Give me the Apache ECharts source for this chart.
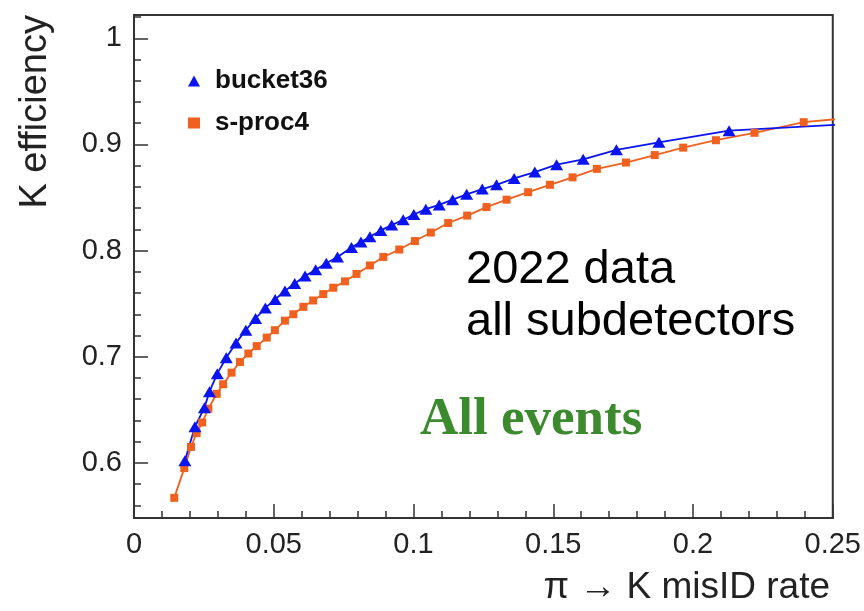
<!DOCTYPE html>
<html>
<head>
<meta charset="utf-8">
<script src="https://cdn.jsdelivr.net/npm/echarts@6/dist/echarts.min.js"></script>
<style>
  html, body { margin: 0; padding: 0; background: #fff; }
  #chart { width: 864px; height: 611px; }
</style>
</head>
<body>
<div id="chart"></div>
<script>
// Working points: pi -> K misID rate (x) vs K efficiency (y)
const bucket36X = [0.0182, 0.0218, 0.0252, 0.0270, 0.0298, 0.0330, 0.0365, 0.0400, 0.0435, 0.0470,
  0.0505, 0.0540, 0.0575, 0.0612, 0.0650, 0.0688, 0.0728, 0.0778, 0.0812, 0.0844,
  0.0883, 0.0922, 0.0963, 0.1001, 0.1044, 0.1092, 0.1140, 0.1190, 0.1246, 0.1297,
  0.1360, 0.1434, 0.1512, 0.1607, 0.1726, 0.1878, 0.2129, 0.2620];
const bucket36Y = [0.602, 0.634, 0.652, 0.667, 0.684, 0.699, 0.713, 0.725, 0.736, 0.746,
  0.754, 0.762, 0.769, 0.776, 0.782, 0.788, 0.794, 0.803, 0.808, 0.813,
  0.819, 0.824, 0.829, 0.834, 0.839, 0.843, 0.848, 0.853, 0.858, 0.862,
  0.868, 0.874, 0.881, 0.886, 0.895, 0.902, 0.913, 0.920];

const sproc4X = [0.0144, 0.0180, 0.0204, 0.0224, 0.0244, 0.0266, 0.0296, 0.0319, 0.0349, 0.0379,
  0.0409, 0.0439, 0.0475, 0.0504, 0.0540, 0.0570, 0.0606, 0.0641, 0.0677, 0.0713,
  0.0755, 0.0796, 0.0844, 0.0892, 0.0949, 0.1005, 0.1062, 0.1124, 0.1192, 0.1261,
  0.1333, 0.1410, 0.1488, 0.1569, 0.1656, 0.1760, 0.1863, 0.1965, 0.2082, 0.2220,
  0.2396, 0.2600];
const sproc4Y = [0.567, 0.595, 0.615, 0.628, 0.638, 0.651, 0.665, 0.674, 0.685, 0.695,
  0.703, 0.710, 0.718, 0.725, 0.734, 0.740, 0.747, 0.753, 0.759, 0.765,
  0.771, 0.778, 0.786, 0.794, 0.801, 0.809, 0.817, 0.826, 0.833, 0.841,
  0.848, 0.855, 0.862, 0.869, 0.877, 0.883, 0.890, 0.897, 0.904, 0.911,
  0.921, 0.926];

// Axis ticks
const xTickValues = [0, 0.05, 0.1, 0.15, 0.2, 0.25];
const yMajorTicks = [0.6, 0.7, 0.8, 0.9, 1.0];
const yMinorTicks = [0.56, 0.58, 0.62, 0.64, 0.66, 0.68, 0.72, 0.74, 0.76, 0.78,
  0.82, 0.84, 0.86, 0.88, 0.92, 0.94, 0.96, 0.98, 1.02];

const pairs = (xs, ys) => xs.map((x, i) => [x, ys[i]]);

const FRAME = '#333';
const BLUE = '#0a14f0';
const ORANGE = '#f0601e';
const labelFont = 'Liberation Sans, Arial, Helvetica, sans-serif';

const chart = echarts.init(document.getElementById('chart'), null, { renderer: 'canvas' });

chart.setOption({
  backgroundColor: '#fff',
  animation: false,
  grid: {
    left: 134, right: 31, top: 15, bottom: 93,
    show: true, borderColor: FRAME, borderWidth: 2, backgroundColor: 'transparent'
  },
  legend: {
    orient: 'vertical',
    left: 183, top: 61,
    itemWidth: 12, itemHeight: 11,
    itemGap: 12,
    selectedMode: false,
    textStyle: {
      fontFamily: labelFont, fontWeight: 'bold', fontSize: 26, color: '#111',
      lineHeight: 30, padding: [0, 0, 0, 10]
    },
    data: [
      { name: 'bucket36', icon: 'triangle', itemStyle: { color: BLUE } },
      { name: 's-proc4', icon: 'rect', itemStyle: { color: ORANGE } }
    ]
  },
  xAxis: {
    type: 'value',
    min: xTickValues[0], max: xTickValues[xTickValues.length - 1], interval: 0.05,
    axisLine: { show: true, onZero: false, lineStyle: { color: FRAME, width: 2 } },
    axisTick: { show: true, inside: true, length: 14, lineStyle: { color: FRAME, width: 1.5 } },
    minorTick: { show: true, splitNumber: 5, length: 7, lineStyle: { color: FRAME, width: 1.5 } },
    splitLine: { show: false },
    axisLabel: {
      margin: 12, fontFamily: labelFont, fontSize: 29, color: '#222',
      formatter: v => String(+v.toFixed(2)),
      showMinLabel: true, showMaxLabel: true
    }
  },
  yAxis: [
    {
      type: 'value',
      min: 0.548, max: 1.022,
      axisLine: { show: true, onZero: false, lineStyle: { color: FRAME, width: 2 } },
      axisTick: { show: true, inside: true, length: 14, customValues: yMajorTicks,
        lineStyle: { color: FRAME, width: 1.5 } },
      splitLine: { show: false },
      axisLabel: {
        margin: 12, fontFamily: labelFont, fontSize: 29, color: '#222',
        customValues: yMajorTicks,
        formatter: v => String(+v.toFixed(2))
      }
    },
    {
      type: 'value',
      min: 0.548, max: 1.022,
      position: 'left',
      axisLine: { show: false },
      axisTick: { show: true, inside: true, length: 7, customValues: yMinorTicks,
        lineStyle: { color: FRAME, width: 1.5 } },
      axisLabel: { show: false },
      splitLine: { show: false }
    }
  ],
  graphic: [
    {
      type: 'text', x: 36, y: 15, rotation: Math.PI / 2,
      style: { text: 'K efficiency', font: '38px ' + labelFont, fill: '#222',
        align: 'right', verticalAlign: 'middle' }
    },
    {
      type: 'text', x: 830, y: 606,
      style: { text: 'π → K misID rate', font: '37px ' + labelFont, fill: '#222',
        align: 'right', verticalAlign: 'bottom' }
    },
    {
      type: 'text', x: 466, y: 270,
      style: { text: '2022 data', font: '47px ' + labelFont, fill: '#000',
        align: 'left', verticalAlign: 'middle' }
    },
    {
      type: 'text', x: 466, y: 322,
      style: { text: 'all subdetectors', font: '47px ' + labelFont, fill: '#000',
        align: 'left', verticalAlign: 'middle' }
    },
    {
      type: 'text', x: 420, y: 420,
      style: { text: 'All events', font: 'bold 53px Liberation Serif, Times New Roman, serif',
        fill: '#3b8b2e', align: 'left', verticalAlign: 'middle' }
    }
  ],
  series: [
    {
      name: 's-proc4',
      type: 'line',
      data: pairs(sproc4X, sproc4Y),
      symbol: 'rect', symbolSize: 8,
      itemStyle: { color: ORANGE },
      lineStyle: { color: ORANGE, width: 1.8 },
      clip: true
    },
    {
      name: 'bucket36',
      type: 'line',
      data: pairs(bucket36X, bucket36Y),
      symbol: 'triangle', symbolSize: [13, 11],
      itemStyle: { color: BLUE },
      lineStyle: { color: BLUE, width: 1.8 },
      clip: true
    }
  ]
});
</script>
</body>
</html>
